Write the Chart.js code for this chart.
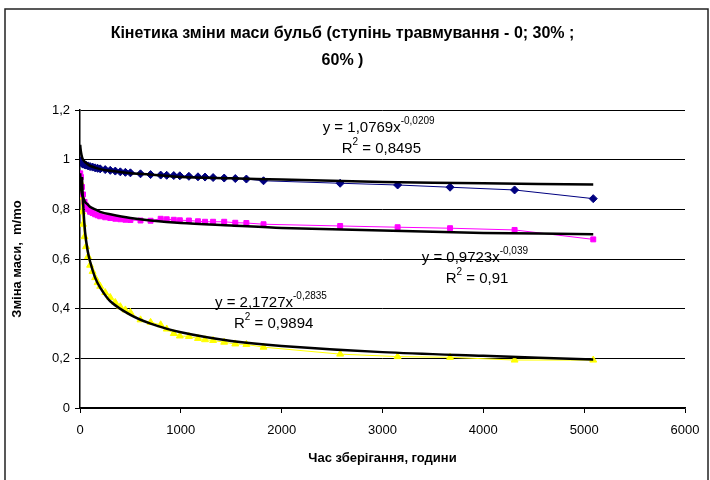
<!DOCTYPE html>
<html>

<head>
    <meta charset="utf-8">
    <script src="https://cdn.jsdelivr.net/npm/chart.js@4.4.0/dist/chart.umd.min.js"></script>
    <style>
        body { margin: 0; background: #fff; }
    </style>
</head>

<body>
    <div style="width:710px;height:480px">
        <canvas id="myChart" width="710" height="480"></canvas>
    </div>
</body>

<script>

    // час зберігання (години) - спільний для всіх трьох серій
    const hours = [2, 10, 20, 30, 45, 60, 80, 100, 125, 150, 175, 200, 250, 300, 350, 400, 450, 500,
        600, 700, 800, 860, 930, 990, 1080, 1170, 1240, 1320, 1430, 1540, 1650, 1820,
        2580, 3150, 3670, 4310, 5090]

    // ступінь травмування 0
    const mass0 = [0.995, 0.99, 0.985, 0.982, 0.98, 0.978, 0.975, 0.972, 0.97, 0.967, 0.965, 0.963, 0.96, 0.957,
        0.954, 0.951, 0.949, 0.947, 0.943, 0.94, 0.938, 0.937, 0.936, 0.935, 0.933, 0.931, 0.93, 0.928,
        0.926, 0.924, 0.922, 0.915, 0.905, 0.898, 0.889, 0.878, 0.843]

    // ступінь травмування 30%
    const mass30 = [0.945, 0.93, 0.89, 0.86, 0.83, 0.815, 0.8, 0.79, 0.785, 0.78, 0.776, 0.772, 0.768, 0.765,
        0.762, 0.76, 0.758, 0.757, 0.755, 0.754, 0.762, 0.76, 0.758, 0.756, 0.755, 0.752, 0.75, 0.75,
        0.75, 0.746, 0.745, 0.74, 0.733, 0.728, 0.724, 0.717, 0.679]

    // ступінь травмування 60%
    const mass60 = [0.91, 0.85, 0.79, 0.74, 0.69, 0.65, 0.61, 0.575, 0.55, 0.525, 0.505, 0.49, 0.465, 0.445,
        0.425, 0.408, 0.395, 0.385, 0.355, 0.345, 0.335, 0.318, 0.3, 0.29, 0.288, 0.28, 0.275, 0.272,
        0.265, 0.258, 0.256, 0.245, 0.217, 0.207, 0.204, 0.193, 0.193]

    // лінії тренду
    const trendHours0 = [2, 5, 10, 20, 30, 50, 75, 100, 150, 200, 300, 500, 700, 1000, 1500, 2000, 3000, 4000, 5090]
    const trend0 = [1.06, 1.045, 1.03, 1.01, 1.0, 0.99, 0.982, 0.975, 0.968, 0.962, 0.955, 0.945, 0.94, 0.93, 0.925, 0.92, 0.91, 0.905, 0.9]
    const trendHours30 = [2, 5, 10, 20, 30, 50, 75, 100, 150, 200, 300, 500, 700, 1000, 1500, 2000, 3000, 4000, 5090]
    const trend30 = [0.945, 0.91, 0.885, 0.86, 0.85, 0.83, 0.82, 0.81, 0.8, 0.79, 0.78, 0.765, 0.755, 0.745, 0.735, 0.725, 0.715, 0.705, 0.7]
    const trendHours60 = [20, 30, 50, 75, 100, 150, 200, 300, 500, 700, 1000, 1500, 2000, 3000, 4000, 5090]
    const trend60 = [0.93, 0.83, 0.71, 0.635, 0.59, 0.525, 0.485, 0.43, 0.375, 0.34, 0.305, 0.27, 0.25, 0.225, 0.21, 0.195]

    // підписи рівнянь
    const eqMain = ['y = 1,0769x', 'y = 0,9723x', 'y = 2,1727x']
    const eqPow = ['-0,0209', '-0,039', '-0,2835']
    const eqR2 = ['0,8495', '0,91', '0,9894']

    const xTicks = [0, 1000, 2000, 3000, 4000, 5000, 6000]
    const yTicks = [0, 0.2, 0.4, 0.6, 0.8, 1, 1.2]

    const toXY = (xs, ys) => xs.map((x, i) => ({ x: x, y: ys[i] }))

    // позиції підписів (в одиницях осей)
    const eqPos = [
        { x: 2407, y: 1.113, rx: 2595, ry: 1.026 },
        { x: 3389, y: 0.589, rx: 3627, ry: 0.502 },
        { x: 1339, y: 0.408, rx: 1527, ry: 0.321 }
    ]

    const FONT = '"Liberation Sans", Arial, sans-serif'

    const framePlugin = {
        id: 'frame',
        beforeDraw(chart) {
            const ctx = chart.ctx
            ctx.save()
            ctx.fillStyle = '#fff'
            ctx.fillRect(0, 0, chart.width, chart.height)
            ctx.strokeStyle = '#222'
            ctx.lineWidth = 1.5
            ctx.strokeRect(5, 9, 703, 490)
            ctx.restore()
        }
    }

    const equationPlugin = {
        id: 'equations',
        afterDatasetsDraw(chart) {
            const ctx = chart.ctx
            const xs = chart.scales.x
            const ys = chart.scales.y
            ctx.save()
            ctx.fillStyle = '#000'
            ctx.textBaseline = 'alphabetic'
            ctx.textAlign = 'left'
            eqPos.forEach((p, i) => {
                let px = xs.getPixelForValue(p.x)
                let py = ys.getPixelForValue(p.y)
                ctx.font = '15px ' + FONT
                ctx.fillText(eqMain[i], px, py)
                const w = ctx.measureText(eqMain[i]).width
                ctx.font = '10px ' + FONT
                ctx.fillText(eqPow[i], px + w, py - 8)

                px = xs.getPixelForValue(p.rx)
                py = ys.getPixelForValue(p.ry)
                ctx.font = '15px ' + FONT
                ctx.fillText('R', px, py)
                const wr = ctx.measureText('R').width
                ctx.font = '10px ' + FONT
                ctx.fillText('2', px + wr, py - 8)
                const w2 = ctx.measureText('2').width
                ctx.font = '15px ' + FONT
                ctx.fillText(' = ' + eqR2[i], px + wr + w2, py)
            })
            ctx.restore()
        }
    }

    const dataSet = (label, xs, ys, color, style, radius) => ({
        label: label,
        data: toXY(xs, ys),
        borderColor: color,
        backgroundColor: color,
        borderWidth: 1,
        pointStyle: style,
        pointRadius: radius,
        pointBorderWidth: 1,
        tension: 0,
        order: 1
    })

    const trendSet = (label, xs, ys) => ({
        label: label,
        data: toXY(xs, ys),
        borderColor: '#000',
        borderWidth: 2.5,
        pointRadius: 0,
        tension: 0.3,
        order: 0
    })

    const config = {
        type: 'line',
        data: {
            datasets: [
                trendSet('тренд 0', trendHours0, trend0),
                trendSet('тренд 30%', trendHours30, trend30),
                trendSet('тренд 60%', trendHours60, trend60),
                dataSet('0', hours, mass0, '#000080', 'rectRot', 4),
                dataSet('30%', hours, mass30, '#FF00FF', 'rect', 3.5),
                dataSet('60%', hours, mass60, '#FFFF00', 'triangle', 4)
            ]
        },
        options: {
            responsive: false,
            animation: false,
            layout: { padding: { left: 0, right: 25, top: 0, bottom: 0 } },
            plugins: {
                legend: { display: false },
                tooltip: { enabled: false },
                title: {
                    display: true,
                    text: ['Кінетика зміни маси бульб (ступінь травмування - 0; 30% ;', '60% )'],
                    color: '#000',
                    font: { family: FONT, size: 16, weight: 'bold', lineHeight: 1.7 },
                    padding: { top: 20, bottom: 35.6 }
                }
            },
            scales: {
                x: {
                    type: 'linear',
                    min: 0,
                    max: 6000,
                    afterFit: (s) => { s.height = 72 },
                    afterBuildTicks: (s) => { s.ticks = xTicks.map(v => ({ value: v })) },
                    ticks: {
                        color: '#000',
                        font: { family: FONT, size: 13 },
                        padding: 10,
                        maxRotation: 0,
                        callback: (v) => String(v)
                    },
                    grid: { drawOnChartArea: false, color: '#000', tickLength: 5 },
                    border: { color: '#000', width: 1.5 },
                    title: {
                        display: true,
                        text: 'Час зберігання, години',
                        color: '#000',
                        font: { family: FONT, size: 13, weight: 'bold' },
                        padding: { top: 0, bottom: 14 }
                    }
                },
                y: {
                    type: 'linear',
                    min: 0,
                    max: 1.2,
                    afterFit: (s) => { s.width = 80 },
                    afterBuildTicks: (s) => { s.ticks = yTicks.map(v => ({ value: v })) },
                    ticks: {
                        color: '#000',
                        font: { family: FONT, size: 13 },
                        padding: 5,
                        callback: (v) => String(Math.round(v * 10) / 10).replace('.', ',')
                    },
                    grid: { color: '#000', lineWidth: 1, tickLength: 5 },
                    border: { color: '#000', width: 1.5 },
                    title: {
                        display: true,
                        text: 'Зміна маси,  m/mo',
                        color: '#000',
                        font: { family: FONT, size: 13, weight: 'bold' },
                        padding: { top: 10, bottom: 0 }
                    }
                }
            }
        },
        plugins: [framePlugin, equationPlugin]
    }

    const myChart = new Chart(document.getElementById('myChart'), config)

</script>

</html>
